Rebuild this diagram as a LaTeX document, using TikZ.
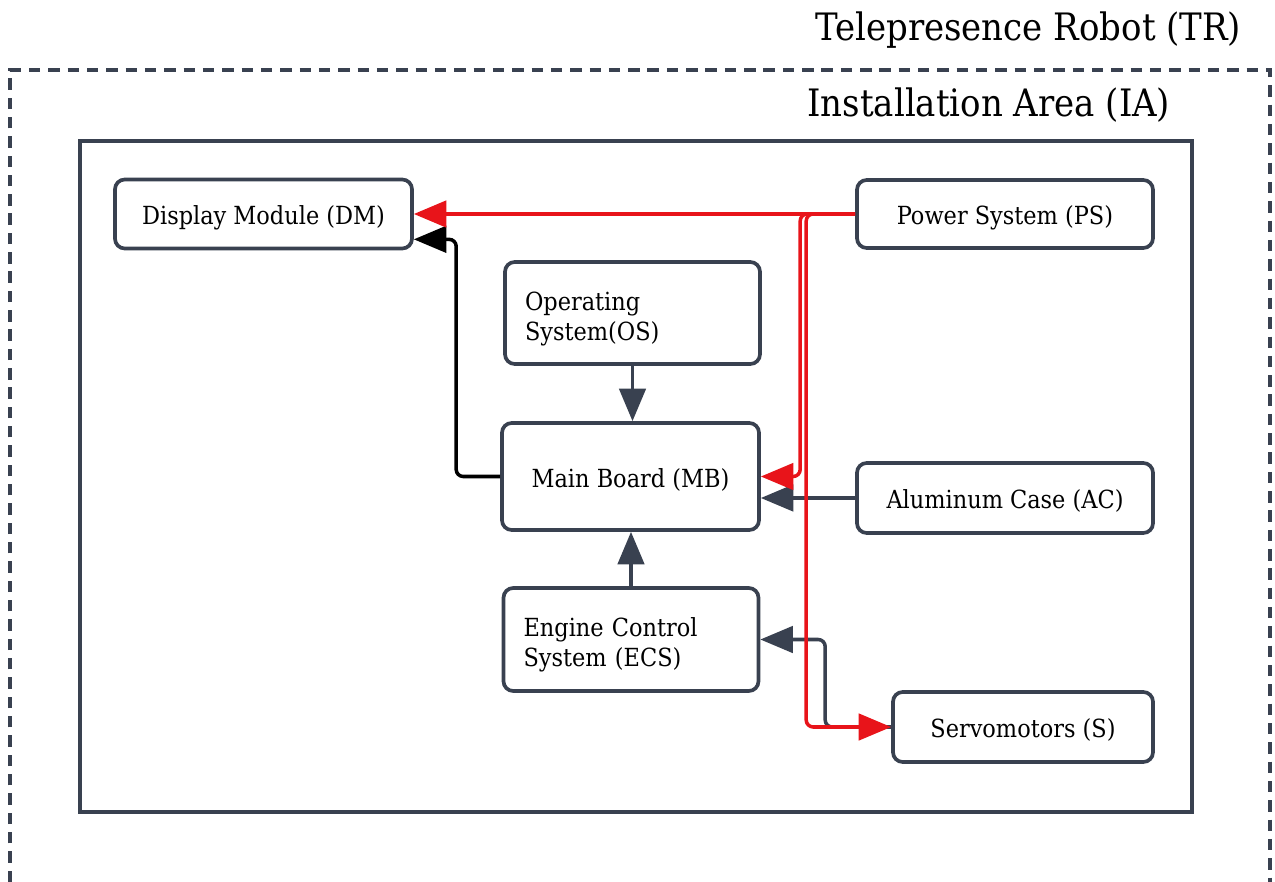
\documentclass[tikz,border=0pt]{standalone}
\usepackage{fontspec}
\setmainfont{DejaVu Serif Condensed}
\usetikzlibrary{arrows.meta,positioning}
\definecolor{framegray}{HTML}{394150}
\definecolor{powerred}{HTML}{E8141A}

\begin{document}
\begin{tikzpicture}[x=0.02cm,y=-0.02cm,>={Triangle[length=18.5pt,width=15pt]},
                    line width=2pt,
                    part/.style={draw=framegray,rounded corners=5.5pt,line width=2.1pt,inner sep=0pt,
                                 font=\fontsize{14.2}{17}\selectfont},
                    one line part/.style={part,text height=15pt,text depth=3pt},
                    two line part/.style={part,text width=4.3cm,inner xsep=0.4cm,align=left,text height=17pt},
                    area label/.style={anchor=east,inner sep=0pt,font=\fontsize{21.5}{25}\selectfont},
                    red link/.style={->,draw=powerred,rounded corners=4pt},
                    gray link/.style={->,draw=framegray,rounded corners=4pt},
                    black link/.style={->,draw=black,rounded corners=4pt}]
  \useasboundingbox (0,0) rectangle (1275,882);

  % frames
  \draw[framegray,line width=2pt,dash pattern=on 6.5pt off 4.5pt] (10,882) |- (1270,70) -- (1270,882);
  \draw[framegray,line width=2.1pt] (80,141) rectangle (1192,812);
  \node[area label] (tr) at (1243,30) {Telepresence Robot (TR)};
  \node[area label] (ia) at (1172,105) {Installation Area (IA)};

  % parts
  \node[one line part,minimum width=5.94cm,minimum height=1.38cm] (dm) at (263.5,214) {Display Module (DM)};
  \node[one line part,minimum width=5.92cm,minimum height=1.36cm] (ps) at (1005,214) {Power System (PS)};
  \node[two line part,minimum height=2.04cm] (os) at (632.5,313) {Operating\\System(OS)};
  \node[one line part,minimum width=5.14cm,minimum height=2.14cm] (mb) at (630.5,476.5) {Main Board (MB)};
  \node[one line part,minimum width=5.92cm,minimum height=1.4cm] (ac) at (1005,498) {Aluminum Case (AC)};
  \node[two line part,minimum height=2.06cm] (ecs) at (631,639.5) {Engine Control\\System (ECS)};
  \node[one line part,minimum width=5.2cm,minimum height=1.4cm] (s) at (1023,727) {Servomotors (S)};

  % links
  \draw[gray link] (os.south) -- (os.south |- mb.north);
  \draw[gray link] (ecs.north) -- (ecs.north |- mb.south);
  \draw[gray link] (ac.west) -- (mb.east |- ac.west);
  \draw[gray link] (s.west) -- ++(-66,0) |- (ecs.east);
  \draw[black link] (mb.west) -- ++(-44,0) |- ([yshift=0.22cm]dm.south east);
  \draw[red link] (ps.west) -- (ps.west -| dm.east);
  \draw[red link] (ps.west) -- ++(-55,0) |- (mb.east);
  \draw[red link] (ps.west) -- ++(-49,0) |- (s.west);
\end{tikzpicture}
\end{document}
